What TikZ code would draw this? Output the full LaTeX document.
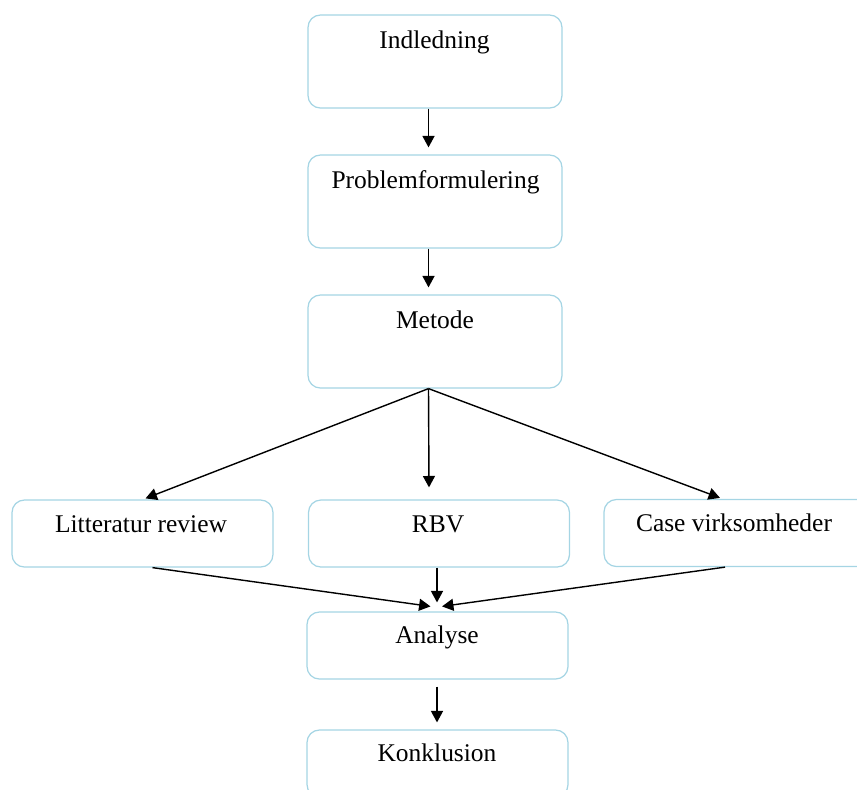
\documentclass[tikz,border=0pt]{standalone}
\usepackage{fontspec}
\setmainfont{Liberation Serif}
\usetikzlibrary{arrows.meta,calc}
\definecolor{boxblue}{RGB}{165,213,228}
\begin{document}
\begin{tikzpicture}[x=0.02cm,y=-0.02cm,
  box/.style={draw=boxblue, line width=0.7pt, rounded corners=7pt, fill=white, inner sep=0pt},
  tall/.style={minimum width=5.08cm, minimum height=1.86cm},
  short/.style={minimum width=5.22cm, minimum height=1.34cm},
  lbl/.style={font=\fontsize{14.5}{17}\selectfont, text=black, anchor=base, inner sep=0pt},
  arr/.style={-{Triangle[length=6.5pt,width=6.8pt]}, line width=0.8pt, black}]
\useasboundingbox (0,0) rectangle (857,789);
\clip (0,0) rectangle (857,789);
% boxes
\node[box, tall] (ind)  at (435,61.5)  {};
\node[box, tall] (prob) at (435,201.5) {};
\node[box, tall] (met)  at (435,341.5) {};
\node[box, short] (lit)  at (142.5,533.5) {};
\node[box, short] (rbv)  at (439,533.5) {};
\node[box, short, minimum width=5.8cm] (case) at (749,533) {};
\node[box, short] (ana)  at (437.5,645.5) {};
\node[box, short] (kon)  at (437.5,763.5) {};
% labels
\node[lbl] (indT)  at (434.5,48)  {Indledning};
\node[lbl] (probT) at (435.5,188) {Problemformulering};
\node[lbl] (metT)  at (435,328)   {Metode};
\node[lbl] (litT)  at (141,532)   {Litteratur review};
\node[lbl] (rbvT)  at (438,532)   {RBV};
\node[lbl] (caseT) at (734,531)   {Case virksomheder};
\node[lbl] (anaT)  at (437,643)   {Analyse};
\node[lbl] (konT)  at (437,761)   {Konklusion};
% connectors
\draw[arr] ($(ind.south)+(-6.5,0)$) -- ($(prob.north)+(-6.5,-7)$);
\draw[arr] ($(prob.south)+(-6.5,0)$) -- ($(met.north)+(-6.5,-7)$);
\coordinate (mb) at ($(met.south)+(-6.5,0)$);
\draw[arr] (mb) -- ($(lit.north)+(3,-1)$);
\draw[arr] (mb) -- ($(rbv.north)+(-10,-12)$);
\draw[arr] (mb) -- ($(case.north)+(-29,-1)$);
\draw[arr] ($(lit.south)+(10,0)$) -- ($(ana.north)+(-7,-5)$);
\draw[arr] ($(rbv.south)+(-2,0)$) -- ($(ana.north)+(-0.5,-9)$);
\draw[arr] ($(case.south)+(-24,0)$) -- ($(ana.north)+(4.5,-5)$);
\draw[arr] ($(ana.south)+(-0.5,7)$) -- ($(kon.north)+(-0.5,-7)$);
\end{tikzpicture}
\end{document}
